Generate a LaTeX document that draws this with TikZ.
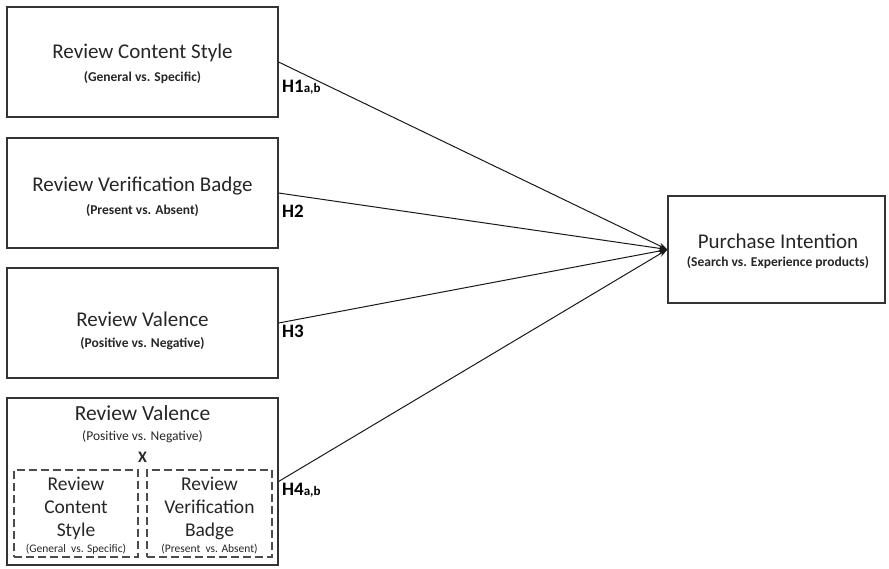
\documentclass[tikz,border=0pt]{standalone}
\usepackage{fontspec}
\setmainfont{Carlito}
\usetikzlibrary{arrows.meta}

\tikzset{
	factor/.style={draw=black!80, line width=1.1pt, shape=rectangle, minimum width=271pt, minimum height=110pt},
	subfactor/.style={draw=black!70, line width=1.2pt, dash pattern={on 8pt off 4pt}, shape=rectangle, minimum width=124pt, minimum height=87pt},
	title/.style={anchor=center, align=center, inner sep=0pt, font=\fontsize{21}{24}\selectfont, text=black!85},
	subtitle/.style={anchor=center, align=center, inner sep=0pt, font=\fontsize{13.5}{16}\selectfont\bfseries, text=black!85},
	hyp/.style={anchor=west, inner sep=0pt, font=\fontsize{19}{22}\selectfont\bfseries},
	path/.style={draw=black!90, line width=1pt, -{Stealth[length=9pt, width=6pt]}}
}
\newcommand{\hsub}[1]{{\fontsize{13}{15}\selectfont #1}}

\begin{document}
\begin{tikzpicture}[x=1pt, y=-1pt]
	\useasboundingbox (0,0) rectangle (889,568);
	% Boxes:
	\node[factor] (style) at (142.5, 62){};
	\node[title] (style title) at (142.5, 53){Review Content Style};
	\node[subtitle] (style sub) at (142.5, 78){(General vs. Specific)};

	\node[factor] (badge) at (142.5, 193){};
	\node[title] (badge title) at (142.5, 186){Review Verification Badge};
	\node[subtitle] (badge sub) at (142.5, 211){(Present vs. Absent)};

	\node[factor] (valence) at (142.5, 323){};
	\node[title] (valence title) at (142.5, 319){Review Valence};
	\node[subtitle] (valence sub) at (142.5, 344){(Positive vs. Negative)};

	\node[factor, minimum height=167pt] (inter) at (142.5, 481.5){};
	\node[title, font=\fontsize{21.5}{24}\selectfont] (inter title) at (142.5, 413){Review Valence};
	\node[title, font=\fontsize{13.5}{16}\selectfont] (inter sub) at (142.5, 437){(Positive vs. Negative)};
	\node[title, font=\fontsize{16}{18}\selectfont\bfseries] (times) at (142.5, 457){X};
	\node[subfactor] (inter style) at (76, 513.5){};
	\node[title, font=\fontsize{19.5}{23}\selectfont] (inter style title) at (76, 508){Review\\Content\\Style};
	\node[title, font=\fontsize{11.5}{13}\selectfont] (inter style sub) at (76, 549){(General\ \ vs. Specific)};
	\node[subfactor, minimum width=125pt] (inter badge) at (209.5, 513.5){};
	\node[title, font=\fontsize{19.5}{23}\selectfont] (inter badge title) at (209.5, 508){Review\\Verification\\Badge};
	\node[title, font=\fontsize{11.5}{13}\selectfont] (inter badge sub) at (209.5, 549){(Present\ \ vs. Absent)};

	\node[factor, minimum width=217pt, minimum height=107pt] (intent) at (776.5, 249.5){};
	\node[title] (intent title) at (778, 241){Purchase Intention};
	\node[subtitle] (intent sub) at (778, 263){(Search vs. Experience products)};

	% Paths:
	\draw[path] (style.east) -- (intent.west);
	\draw[path] (badge.east) -- (intent.west);
	\draw[path] (valence.east) -- (intent.west);
	\draw[path] (inter.east) -- (intent.west);

	% Hypotheses:
	\node[hyp] (h1) at (282, 87){H1\hsub{a,b}};
	\node[hyp] (h2) at (282, 211){H2};
	\node[hyp] (h3) at (282, 331){H3};
	\node[hyp] (h4) at (282, 490){H4\hsub{a,b}};
\end{tikzpicture}
\end{document}
